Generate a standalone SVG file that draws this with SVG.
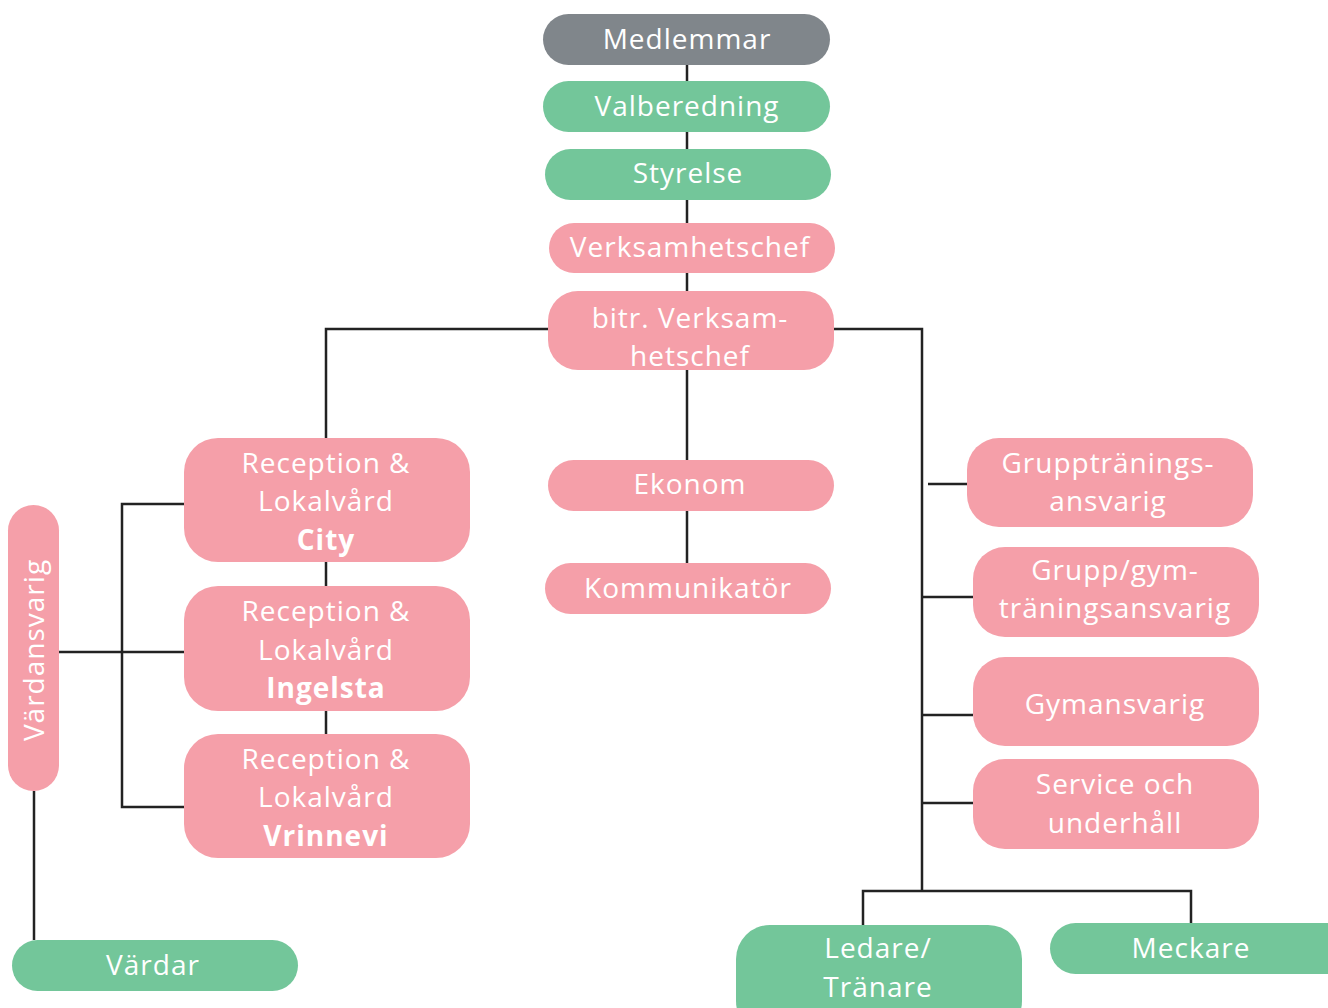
<svg xmlns="http://www.w3.org/2000/svg" width="1328" height="1008" viewBox="0 0 1328 1008">
<style>
.gray{fill:#80868b}
.green{fill:#73c69a}
.pink{fill:#f59fa9}
text{font-family:"Open Sans","Liberation Sans",sans-serif;font-size:28px;fill:#ffffff;text-anchor:middle;letter-spacing:1px}
.b{font-weight:bold}
.c{fill:none;stroke:#222222;stroke-width:2.5}
</style>
<rect width="1328" height="1008" fill="#ffffff"/>
<g id="connectors">
<path class="c" d="M687 65V563"/>
<path class="c" d="M548 329H326V438"/>
<path class="c" d="M834 329H922V891"/>
<path class="c" d="M863 925V891H1191V923"/>
<path class="c" d="M928 484H967"/>
<path class="c" d="M922 597H973"/>
<path class="c" d="M922 715H973"/>
<path class="c" d="M922 803H973"/>
<path class="c" d="M326 562V586M326 711V734"/>
<path class="c" d="M184 504H122V807H184"/>
<path class="c" d="M59 652H184"/>
<path class="c" d="M34 791V940"/>
</g>
<g id="medlemmar"><rect class="gray" x="543" y="14" width="287" height="51" rx="25.5"/><text x="687" y="49">Medlemmar</text></g>
<g id="valberedning"><rect class="green" x="543" y="81" width="287" height="51" rx="25.5"/><text x="687" y="116">Valberedning</text></g>
<g id="styrelse"><rect class="green" x="545" y="149" width="286" height="51" rx="25.5"/><text x="688" y="183">Styrelse</text></g>
<g id="verksamhetschef"><rect class="pink" x="549" y="223" width="286" height="50" rx="25"/><text x="690" y="257">Verksamhetschef</text></g>
<g id="bitr"><rect class="pink" x="548" y="291" width="286" height="79" rx="30"/><text x="690" y="328">bitr. Verksam-</text><text x="690" y="366">hetschef</text></g>
<g id="ekonom"><rect class="pink" x="548" y="460" width="286" height="51" rx="25.5"/><text x="690" y="494">Ekonom</text></g>
<g id="kommunikator"><rect class="pink" x="545" y="563" width="286" height="51" rx="25.5"/><text x="688" y="598">Kommunikatör</text></g>
<g id="city"><rect class="pink" x="184" y="438" width="286" height="124" rx="34"/><text x="326" y="473">Reception &amp;</text><text x="326" y="511">Lokalvård</text><text x="326" y="550" class="b">City</text></g>
<g id="ingelsta"><rect class="pink" x="184" y="586" width="286" height="125" rx="34"/><text x="326" y="621">Reception &amp;</text><text x="326" y="660">Lokalvård</text><text x="326" y="698" class="b">Ingelsta</text></g>
<g id="vrinnevi"><rect class="pink" x="184" y="734" width="286" height="124" rx="34"/><text x="326" y="769">Reception &amp;</text><text x="326" y="807">Lokalvård</text><text x="326" y="846" class="b">Vrinnevi</text></g>
<g id="vardansvarig"><rect class="pink" x="8" y="505" width="51" height="286" rx="25.5"/><text x="0" y="0" transform="translate(44 650) rotate(-90)">Värdansvarig</text></g>
<g id="vardar"><rect class="green" x="12" y="940" width="286" height="51" rx="25.5"/><text x="153" y="975">Värdar</text></g>
<g id="grupptraning"><rect class="pink" x="967" y="438" width="286" height="89" rx="32"/><text x="1108" y="473">Grupptränings-</text><text x="1108" y="511">ansvarig</text></g>
<g id="gruppgym"><rect class="pink" x="973" y="547" width="286" height="90" rx="32"/><text x="1115" y="580">Grupp/gym-</text><text x="1115" y="618">träningsansvarig</text></g>
<g id="gymansvarig"><rect class="pink" x="973" y="657" width="286" height="89" rx="32"/><text x="1115" y="714">Gymansvarig</text></g>
<g id="service"><rect class="pink" x="973" y="759" width="286" height="90" rx="32"/><text x="1115" y="794">Service och</text><text x="1115" y="833">underhåll</text></g>
<g id="ledare"><rect class="green" x="736" y="925" width="286" height="110" rx="34"/><text x="878" y="958">Ledare/</text><text x="878" y="997">Tränare</text></g>
<g id="meckare"><rect class="green" x="1050" y="923" width="310" height="51" rx="25.5"/><text x="1191" y="958">Meckare</text></g>
</svg>
